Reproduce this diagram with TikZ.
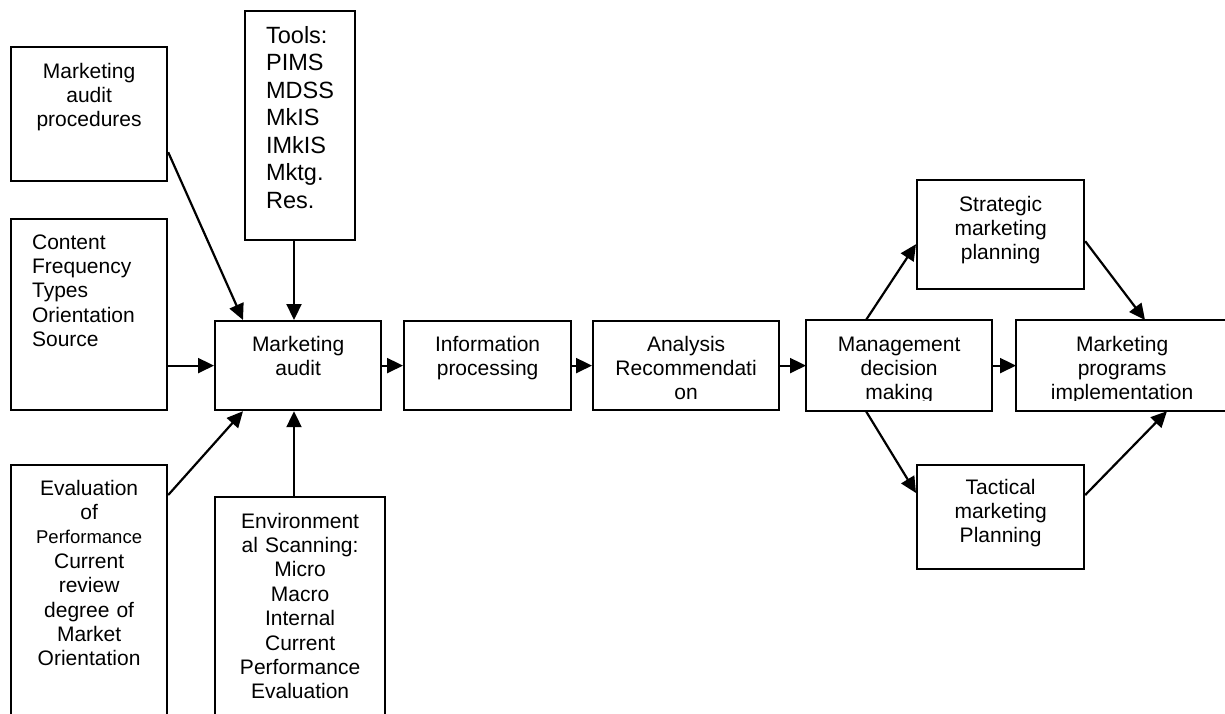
\documentclass[tikz,border=0pt]{standalone}
\usepackage{fontspec}
\setmainfont{Liberation Sans}
\usetikzlibrary{arrows.meta}

\begin{document}
\begin{tikzpicture}[x=1pt, y=-1pt, line width=2.2pt,
    box/.style={draw, inner sep=0pt, anchor=north west, align=center, text height=30pt, font=\fontsize{21}{24.4}\selectfont},
    lbox/.style={box, align=left, inner xsep=21pt},
    arr/.style={-{Triangle[length=16pt, width=15pt]}}]
            \useasboundingbox (0,0) rectangle (1225,713);
            \clip (0,0) rectangle (1225,713);

            % inputs of the audit
            \node[box, text width=156pt, text height=31pt, text depth=103pt] at (10,46) (map) {Marketing\\audit\\procedures};
            \node[lbox, text width=68pt, text height=32pt, text depth=197pt, font=\fontsize{23.5}{27.5}\selectfont] at (244,10) (tools) {Tools:\\PIMS\\MDSS\\MkIS\\IMkIS\\Mktg.\\Res.};
            \node[lbox, text width=114pt, text depth=161pt] at (10,218) (content) {Content\\Frequency\\Types\\Orientation\\Source};
            \node[box, text width=156pt, text depth=230pt] at (10,464) (eval) {Evaluation\\of\\{\fontsize{18.5}{24.4}\selectfont Performance}\\Current\\review\\degree of\\Market\\Orientation};
            \node[box, text width=170pt, text height=31pt, text depth=200pt] at (214,496) (env) {Environment\\al Scanning:\\Micro\\Macro\\Internal\\Current\\Performance\\Evaluation};

            % main chain
            \node[box, text width=166pt, text depth=59pt] at (214,320) (audit) {Marketing\\audit};
            \node[box, text width=167pt, text depth=59pt] at (403,320) (info) {Information\\processing};
            \node[box, text width=186pt, text depth=59pt] at (592,320) (analysis) {Analysis\\Recommendati\\on};
            \begin{scope}
                \clip (780,300) rectangle (1230,400);
                \node[box, draw=none, text width=184pt, text depth=59pt] at (806,320) (mgmt) {Management\\decision\\making};
                \node[box, draw=none, text width=210pt, text depth=59pt] at (1016,320) (programs) {Marketing\\programs\\implementation};
            \end{scope}
            \draw (mgmt.north west) rectangle (mgmt.south east);
            \draw (programs.north west) rectangle (programs.south east);

            % planning
            \node[box, text width=167pt, text height=31pt, text depth=78pt] at (916,179) (strategic) {Strategic\\marketing\\planning};
            \node[box, text width=167pt, text height=29pt, text depth=75pt] at (916,464) (tactical) {Tactical\\marketing\\Planning};

            \coordinate (atop) at ([xshift=80pt]audit.north west);
            \coordinate (abot) at ([xshift=80pt]audit.south west);

            \draw[arr] ([yshift=30pt]map.south east) -- ([xshift=29pt]audit.north west);
            \draw[arr] (atop |- tools.south) -- (atop);
            \draw[arr] (content.east |- audit.west) -- (audit.west);
            \draw[arr] ([yshift=-31pt]eval.north east) -- ([xshift=29pt]audit.south west);
            \draw[arr] (abot |- env.north) -- (abot);
            \draw[arr] (audit.east) -- (info.west);
            \draw[arr] (info.east) -- (analysis.west);
            \draw[arr] (analysis.east) -- (mgmt.west);
            \draw[arr] (mgmt.east) -- (programs.west);
            \draw[arr] ([xshift=60pt]mgmt.north west) -- ([yshift=46pt]strategic.south west);
            \draw[arr] ([yshift=49pt]strategic.south east) -- ([xshift=129pt]programs.north west);
            \draw[arr] ([xshift=60pt]mgmt.south west) -- ([yshift=-29pt]tactical.north west);
            \draw[arr] ([yshift=-31pt]tactical.north east) -- ([xshift=151pt]programs.south west);
        \end{tikzpicture}
\end{document}
